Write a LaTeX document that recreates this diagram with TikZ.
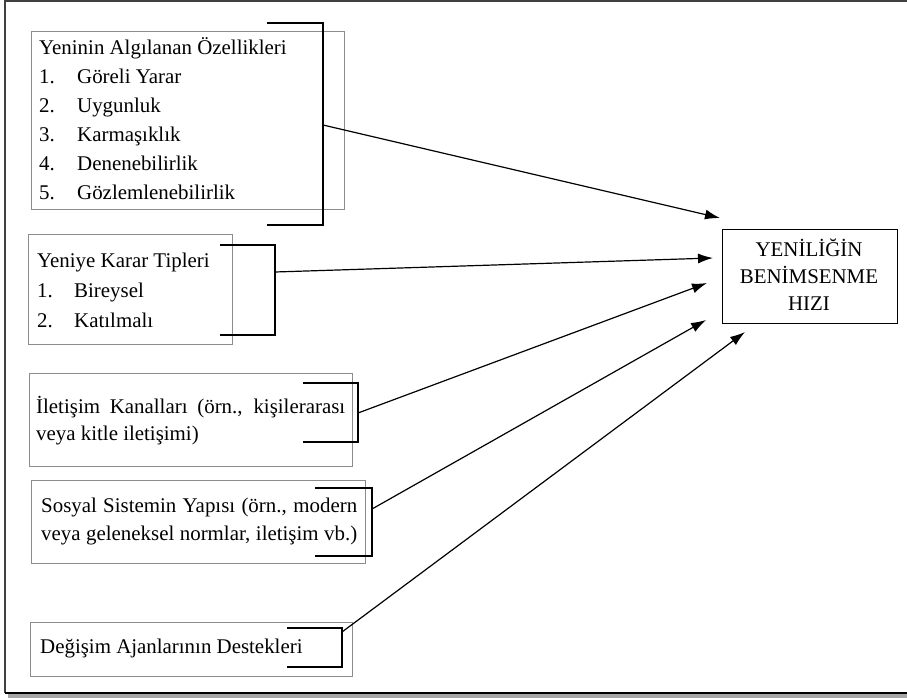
\documentclass[tikz,border=0pt]{standalone}
\usepackage{fontspec}
\setmainfont{Liberation Serif}
\usetikzlibrary{arrows.meta}
\newcommand{\bodyfs}{\fontsize{20.9}{28.8}\selectfont}
\tikzset{
  txt/.style={inner sep=0pt, anchor=base west, font=\bodyfs},
  gbox/.style={draw=black!45, line width=0.9pt, anchor=north west, inner sep=0pt},
  kbox/.style={draw=black, line width=1.1pt, anchor=north west, inner sep=0pt},
  brk/.style={draw=black, line width=1.2pt},
  arr/.style={draw=black, line width=1.2pt, -{Latex[length=15pt,width=10pt]}},
}
\begin{document}
\begin{tikzpicture}[x=1pt,y=-1pt]
\useasboundingbox (0,0) rectangle (907,698);

% outer frame and its shadow
\fill[black!35] (8,694) rectangle (907,698);
\draw[line width=2pt, black!75] (5,693) -- (5,1) -- (907,1);
\draw[line width=1.6pt, black] (5,693) -- (907,693);

% factor boxes
\node[gbox, minimum width=313pt, minimum height=178pt] (b1) at (31,31) {};
\node[gbox, minimum width=204pt, minimum height=110pt] (b2) at (28,234) {};
\node[gbox, minimum width=323pt, minimum height=93pt] (b3) at (29,373) {};
\node[gbox, minimum width=334pt, minimum height=83pt] (b4) at (31,480) {};
\node[gbox, minimum width=322pt, minimum height=54pt] (b5) at (30,622) {};

% texts of the first box
\node[txt] (b1t) at (39,55) {Yeninin Algılanan Özellikleri};
\foreach \n/\s [count=\i] in {1/Göreli Yarar, 2/Uygunluk, 3/Karmaşıklık, 4/Denenebilirlik, 5/Gözlemlenebilirlik}{
  \node[txt] (b1n\i) at (39,{55+28.8*\i}) {\n.};
  \node[txt] (b1s\i) at (77,{55+28.8*\i}) {\s};
}

% texts of the second box
\node[txt] (b2t) at (37,267) {Yeniye Karar Tipleri};
\node[txt] (b2n1) at (37,297) {1.};
\node[txt] (b2s1) at (74,297) {Bireysel};
\node[txt] (b2n2) at (37,327) {2.};
\node[txt] (b2s2) at (74,327) {Katılmalı};

% texts of the third, fourth and fifth boxes
\node[txt] (b3a) at (36,413) {\makebox[309pt][s]{İletişim Kanalları (örn., kişilerarası}};
\node[txt] (b3b) at (36,440) {veya kitle iletişimi)};
\node[txt] (b4a) at (41,512) {\makebox[316pt][s]{Sosyal Sistemin Yapısı (örn., modern}};
\node[txt] (b4b) at (41,540) {\makebox[316pt][s]{veya geleneksel normlar, iletişim vb.)}};
\node[txt] (b5a) at (40,653) {Değişim Ajanlarının Destekleri};

% result box
\node[kbox, minimum width=175pt, minimum height=94pt] (res) at (722,229) {};
\node[inner sep=0pt, anchor=base, font=\bodyfs] (r1) at (809,256) {YENİLİĞİN};
\node[inner sep=0pt, anchor=base, font=\bodyfs] (r2) at (809,283) {BENİMSENME};
\node[inner sep=0pt, anchor=base, font=\bodyfs] (r3) at (809,310) {HIZI};

% brackets
\draw[brk] (267,23) -| (323,225) -- (267,225);
\draw[brk] (220,245) -| (275,335) -- (220,335);
\draw[brk] (303,383) -| (358,442) -- (303,442);
\draw[brk] (315,488) -| (372,556) -- (315,556);
\draw[brk] (287,628) -| (342,667) -- (287,667);

% arrow origins on the brackets and arrow tips near the result box
\coordinate (k1) at (323,125);
\coordinate (k2) at (275,272);
\coordinate (k3) at (358,413);
\coordinate (k4) at (372,509);
\coordinate (k5) at (342,632);
\coordinate (t1) at (720,218);
\coordinate (t2) at (713,258);
\coordinate (t3) at (707,283);
\coordinate (t4) at (706,320);
\coordinate (t5) at (745,332);
\foreach \i in {1,...,5} \draw[arr] (k\i) -- (t\i);
\end{tikzpicture}
\end{document}
